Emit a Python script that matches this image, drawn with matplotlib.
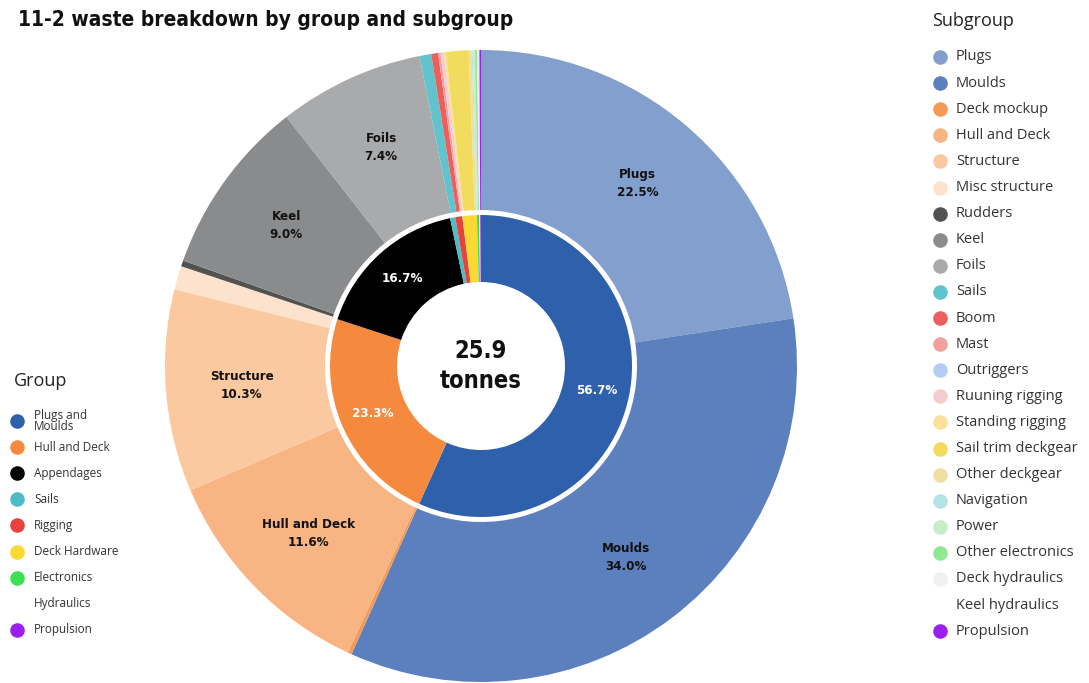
import numpy as np
import matplotlib
matplotlib.use("Agg")
import matplotlib.pyplot as plt

W, H = 1089, 683
TOTAL_TONNES = 25.9

# inner ring: groups (% of total)
groups = ["Plugs and\nMoulds", "Hull and Deck", "Appendages", "Sails", "Rigging",
          "Deck Hardware", "Electronics", "Hydraulics", "Propulsion"]
group_pct = [56.7, 23.3, 16.7, 0.55, 0.75, 1.55, 0.25, 0.1, 0.08]
group_colors = ["#2f60ab", "#f58a3e", "#000000", "#4cbdc5", "#e8423f",
                "#fcd932", "#3fe04f", "#ffffff", "#9a20f0"]

# outer ring: subgroups (% of total)
subgroups = ["Plugs", "Moulds", "Deck mockup", "Hull and Deck", "Structure",
             "Misc structure", "Rudders", "Keel", "Foils", "Sails", "Boom", "Mast",
             "Outriggers", "Ruuning rigging", "Standing rigging", "Sail trim deckgear",
             "Other deckgear", "Navigation", "Power", "Other electronics",
             "Deck hydraulics", "Keel hydraulics", "Propulsion"]
sub_pct = [22.5, 34.0, 0.2, 11.6, 10.3, 1.2, 0.3, 9.0, 7.4, 0.6, 0.35, 0.12,
           0.02, 0.15, 0.1, 1.15, 0.15, 0.05, 0.12, 0.1, 0.12, 0.0, 0.08]
sub_colors = ["#829fcd", "#5b80bd", "#f59a55", "#f8b482", "#fbc99f", "#fde2ce",
              "#525250", "#8a8b8d", "#a9aaac", "#61c4cc", "#ec5f5d", "#f0a19f",
              "#b4cdf6", "#f3cdcd", "#fbe09d", "#f2dc5f", "#efe09f", "#b4e3e6",
              "#c8eec9", "#90e891", "#f0f0f0", "#ffffff", "#9a20f0"]
# subgroups whose share is printed on the chart
sub_labelled = ["Plugs", "Moulds", "Hull and Deck", "Structure", "Keel", "Foils"]

COND = dict(family=["DejaVu Sans"], fontstretch="condensed", fontweight="bold")
LEG = ["Open Sans", "DejaVu Sans"]

fig = plt.figure(figsize=(W / 100, H / 100), dpi=100)
ax = fig.add_axes([0, 0, 1, 1])

cx, cy = 481, H - 366
R_OUT, R_OUT_IN = 316, 156
R_IN, R_HOLE = 151, 84

ax.pie(sub_pct, colors=sub_colors, radius=R_OUT, center=(cx, cy), startangle=90,
       counterclock=False, wedgeprops=dict(width=R_OUT - R_OUT_IN, linewidth=0))
ax.pie(group_pct, colors=group_colors, radius=R_IN, center=(cx, cy), startangle=90,
       counterclock=False, wedgeprops=dict(width=R_IN - R_HOLE, linewidth=0))
ax.set_xlim(0, W)
ax.set_ylim(0, H)
ax.set_aspect("equal")
ax.axis("off")


def mid_angles(vals):
    vals = np.asarray(vals, dtype=float)
    frac = vals / vals.sum()
    mids = np.cumsum(frac) - frac / 2
    return np.deg2rad(90 - 360 * mids)


# outer labels
ang = mid_angles(sub_pct)
for i, name in enumerate(subgroups):
    if name not in sub_labelled:
        continue
    r = 240
    x, y = cx + r * np.cos(ang[i]), cy + r * np.sin(ang[i])
    ax.text(x, y, f"{name}\n{sub_pct[i]:.1f}%", ha="center", va="center",
            fontsize=9.5, color="#111111", linespacing=1.5, **COND)

# inner labels
ang = mid_angles(group_pct)
for i in range(3):
    r = 118
    x, y = cx + r * np.cos(ang[i]), cy + r * np.sin(ang[i])
    ax.text(x, y, f"{group_pct[i]:.1f}%", ha="center", va="center",
            fontsize=9.5, color="white", **COND)

ax.text(cx, cy, f"{TOTAL_TONNES}\ntonnes", ha="center", va="center", fontsize=17,
        color="#111111", linespacing=1.3, **COND)

fig.text(18 / W, 1 - 20 / H, "11-2 waste breakdown by group and subgroup",
         ha="left", va="center", fontsize=15, color="#111111", **COND)

# subgroup legend (right)
fig.text(932 / W, 1 - 21 / H, "Subgroup", ha="left", va="center", fontsize=13,
         family=LEG, color="#222222")
for i, name in enumerate(subgroups):
    y = H - (57 + 26.1 * i)
    if sub_colors[i] != "#ffffff":
        ax.scatter(940, y, s=110, color=sub_colors[i], linewidths=0)
    ax.text(956, y, name, ha="left", va="center", fontsize=10.5, family=LEG,
            color="#333333")

# group legend (left)
fig.text(14 / W, 1 - 381 / H, "Group", ha="left", va="center", fontsize=13,
         family=LEG, color="#222222")
for i, name in enumerate(groups):
    y = H - (421 + 26.1 * i)
    if group_colors[i] != "#ffffff":
        ax.scatter(17, y, s=110, color=group_colors[i], linewidths=0)
    ax.text(34, y, name, ha="left", va="center", fontsize=8.5, family=LEG,
            color="#333333", linespacing=0.9)

fig.savefig("out.png", dpi=100, facecolor="white")
